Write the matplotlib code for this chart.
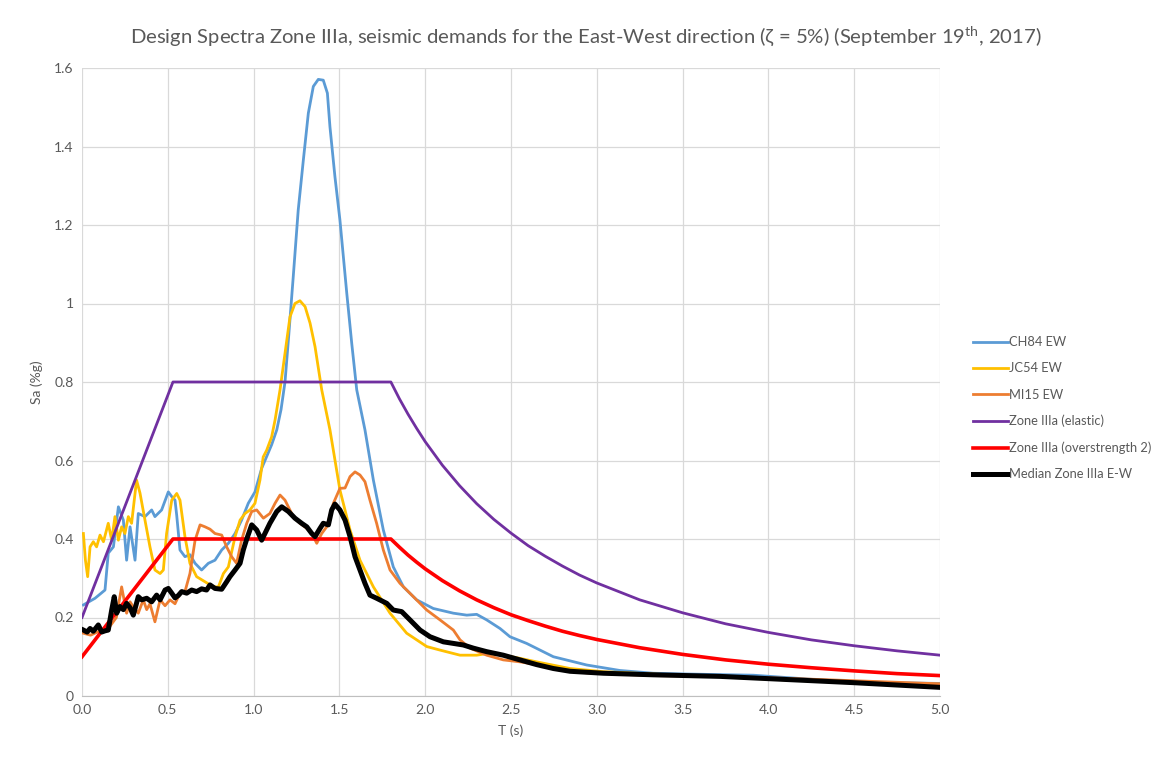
import matplotlib
matplotlib.use("Agg")
import matplotlib.pyplot as plt

# ---- Data ----
T_ch84 = [0.008, 0.076, 0.134, 0.153, 0.183, 0.212, 0.241, 0.26, 0.28, 0.309, 0.328, 0.367, 0.406, 0.425,
          0.464, 0.503, 0.523, 0.542, 0.552, 0.571, 0.6, 0.629, 0.659, 0.697, 0.736, 0.775, 0.814, 0.853,
          0.892, 0.93, 0.969, 1.008, 1.047, 1.076, 1.105, 1.135, 1.16, 1.183, 1.205, 1.231, 1.26, 1.29,
          1.319, 1.348, 1.377, 1.406, 1.43, 1.445, 1.474, 1.503, 1.543, 1.572, 1.601, 1.649, 1.698, 1.756,
          1.814, 1.873, 1.95, 2.047, 2.164, 2.242, 2.3, 2.358, 2.436, 2.494, 2.591, 2.747, 2.941, 3.135,
          3.329, 3.524, 3.912, 4.3, 4.689, 5.0]
Sa_ch84 = [0.232, 0.249, 0.27, 0.364, 0.38, 0.482, 0.448, 0.346, 0.431, 0.346, 0.465, 0.457, 0.474, 0.457,
           0.474, 0.52, 0.508, 0.499, 0.46, 0.372, 0.355, 0.36, 0.338, 0.321, 0.338, 0.346, 0.372, 0.389,
           0.414, 0.448, 0.491, 0.52, 0.58, 0.61, 0.64, 0.678, 0.73, 0.8, 0.92, 1.068, 1.238, 1.366,
           1.485, 1.553, 1.571, 1.569, 1.536, 1.45, 1.323, 1.213, 1.026, 0.898, 0.78, 0.678, 0.55, 0.423,
           0.329, 0.278, 0.245, 0.223, 0.211, 0.206, 0.208, 0.194, 0.172, 0.151, 0.134, 0.1, 0.079, 0.065,
           0.058, 0.056, 0.053, 0.041, 0.034, 0.032]

T_jc54 = [0.008, 0.02, 0.033, 0.047, 0.066, 0.085, 0.105, 0.125, 0.153, 0.173, 0.192, 0.212, 0.231, 0.25,
          0.27, 0.289, 0.318, 0.338, 0.367, 0.396, 0.425, 0.455, 0.474, 0.493, 0.523, 0.552, 0.571, 0.6,
          0.629, 0.668, 0.717, 0.765, 0.795, 0.824, 0.853, 0.892, 0.921, 0.95, 0.979, 1.008, 1.037, 1.056,
          1.076, 1.105, 1.125, 1.154, 1.183, 1.212, 1.241, 1.27, 1.3, 1.329, 1.358, 1.397, 1.445, 1.503,
          1.562, 1.62, 1.698, 1.795, 1.892, 2.009, 2.086, 2.203, 2.3, 2.358, 2.455, 2.552, 2.649, 2.844,
          3.038, 3.329, 3.718, 4.106, 4.495, 5.0]
Sa_jc54 = [0.414, 0.346, 0.304, 0.38, 0.393, 0.38, 0.41, 0.393, 0.44, 0.397, 0.457, 0.397, 0.431, 0.414,
           0.457, 0.44, 0.55, 0.517, 0.448, 0.38, 0.321, 0.312, 0.321, 0.414, 0.499, 0.516, 0.499, 0.406,
           0.338, 0.304, 0.291, 0.278, 0.278, 0.312, 0.329, 0.406, 0.448, 0.465, 0.474, 0.491, 0.55, 0.609,
           0.626, 0.66, 0.703, 0.78, 0.873, 0.966, 1.0, 1.007, 0.992, 0.95, 0.89, 0.78, 0.678, 0.525,
           0.423, 0.346, 0.278, 0.211, 0.16, 0.126, 0.117, 0.104, 0.104, 0.108, 0.104, 0.096, 0.087, 0.07,
           0.062, 0.056, 0.049, 0.041, 0.034, 0.03]

T_mi15 = [0.008, 0.05, 0.1, 0.15, 0.2, 0.231, 0.26, 0.28, 0.299, 0.328, 0.357, 0.377, 0.396, 0.425, 0.455,
          0.484, 0.513, 0.542, 0.571, 0.6, 0.629, 0.659, 0.688, 0.717, 0.746, 0.775, 0.814, 0.843, 0.872,
          0.901, 0.93, 0.96, 0.989, 1.018, 1.057, 1.095, 1.125, 1.154, 1.183, 1.231, 1.27, 1.31, 1.339,
          1.368, 1.397, 1.426, 1.465, 1.503, 1.533, 1.562, 1.591, 1.62, 1.649, 1.678, 1.717, 1.756, 1.795,
          1.853, 1.931, 2.009, 2.086, 2.164, 2.203, 2.261, 2.358, 2.455, 2.552, 2.649, 2.785, 2.941, 3.329,
          3.718, 4.106, 4.495, 5.0]
Sa_mi15 = [0.16, 0.155, 0.165, 0.17, 0.2, 0.278, 0.211, 0.24, 0.227, 0.211, 0.245, 0.22, 0.235, 0.189, 0.245,
           0.23, 0.245, 0.235, 0.262, 0.266, 0.312, 0.397, 0.436, 0.431, 0.425, 0.414, 0.41, 0.38, 0.355,
           0.338, 0.397, 0.44, 0.47, 0.474, 0.453, 0.465, 0.491, 0.512, 0.499, 0.457, 0.44, 0.427, 0.414,
           0.389, 0.414, 0.431, 0.491, 0.529, 0.53, 0.559, 0.571, 0.563, 0.546, 0.499, 0.44, 0.372, 0.321,
           0.287, 0.253, 0.219, 0.194, 0.168, 0.143, 0.122, 0.104, 0.092, 0.087, 0.08, 0.066, 0.059, 0.052,
           0.05, 0.045, 0.039, 0.031]

T_med = [0.008, 0.03, 0.047, 0.066, 0.095, 0.115, 0.134, 0.153, 0.173, 0.188, 0.202, 0.221, 0.241, 0.26,
         0.28, 0.299, 0.328, 0.348, 0.377, 0.406, 0.435, 0.455, 0.484, 0.503, 0.523, 0.542, 0.561, 0.581,
         0.61, 0.639, 0.668, 0.697, 0.726, 0.746, 0.775, 0.814, 0.843, 0.862, 0.892, 0.921, 0.94, 0.96,
         0.989, 1.018, 1.047, 1.095, 1.135, 1.164, 1.203, 1.241, 1.28, 1.31, 1.339, 1.358, 1.387, 1.406,
         1.436, 1.455, 1.474, 1.503, 1.533, 1.562, 1.591, 1.62, 1.649, 1.678, 1.717, 1.776, 1.814, 1.863,
         1.911, 1.97, 2.028, 2.106, 2.222, 2.28, 2.358, 2.455, 2.552, 2.649, 2.747, 2.844, 3.038, 3.329,
         3.718, 4.106, 4.495, 5.0]
Sa_med = [0.168, 0.163, 0.172, 0.165, 0.181, 0.163, 0.166, 0.168, 0.219, 0.253, 0.211, 0.228, 0.22, 0.236,
          0.225, 0.206, 0.253, 0.245, 0.249, 0.24, 0.257, 0.245, 0.27, 0.274, 0.262, 0.25, 0.256, 0.266,
          0.262, 0.27, 0.266, 0.273, 0.27, 0.283, 0.274, 0.272, 0.291, 0.304, 0.321, 0.338, 0.372, 0.4,
          0.436, 0.423, 0.397, 0.44, 0.47, 0.482, 0.47, 0.453, 0.44, 0.431, 0.414, 0.406, 0.427, 0.44,
          0.436, 0.474, 0.489, 0.474, 0.448, 0.406, 0.355, 0.321, 0.287, 0.257, 0.249, 0.236, 0.219, 0.215,
          0.194, 0.168, 0.151, 0.138, 0.13, 0.122, 0.113, 0.104, 0.092, 0.08, 0.07, 0.063, 0.058, 0.054,
          0.05, 0.042, 0.034, 0.022]

T_design = [0.0, 0.53, 1.8, 1.85, 1.9, 1.95, 2.0, 2.1, 2.2, 2.3, 2.4, 2.5, 2.6, 2.7, 2.8, 2.9, 3.0, 3.25,
            3.5, 3.75, 4.0, 4.25, 4.5, 4.75, 5.0]
Sa_elastic = [0.2, 0.8, 0.8, 0.757, 0.718, 0.682, 0.648, 0.588, 0.536, 0.49, 0.45, 0.415, 0.383, 0.356,
              0.331, 0.308, 0.288, 0.245, 0.212, 0.184, 0.162, 0.143, 0.128, 0.115, 0.104]
Sa_over2 = [0.1, 0.4, 0.4, 0.379, 0.359, 0.341, 0.324, 0.294, 0.268, 0.245, 0.225, 0.207, 0.192, 0.178,
            0.165, 0.154, 0.144, 0.123, 0.106, 0.092, 0.081, 0.072, 0.064, 0.057, 0.052]

x_ticks = [0.0, 0.5, 1.0, 1.5, 2.0, 2.5, 3.0, 3.5, 4.0, 4.5, 5.0]
y_ticks = [0, 0.2, 0.4, 0.6, 0.8, 1.0, 1.2, 1.4, 1.6]
y_ticklabels = ["0", "0.2", "0.4", "0.6", "0.8", "1", "1.2", "1.4", "1.6"]

# ---- Plot ----
plt.rcParams['font.family'] = ['Lato', 'DejaVu Sans']
fig = plt.figure(figsize=(11.64, 7.62), dpi=100)
ax = fig.add_axes([82/1164, 1-696/762, (940-82)/1164, (696-68)/762])

ax.plot(T_ch84, Sa_ch84, color='#5B9BD5', lw=2.0, label='CH84 EW', zorder=3)
ax.plot(T_jc54, Sa_jc54, color='#FFC000', lw=2.0, label='JC54 EW', zorder=3)
ax.plot(T_mi15, Sa_mi15, color='#ED7D31', lw=2.0, label='MI15 EW', zorder=3)
ax.plot(T_design, Sa_elastic, color='#7030A0', lw=2.0, label='Zone IIIa (elastic)', zorder=3)
ax.plot(T_design, Sa_over2, color='#FF0000', lw=2.6, label='Zone IIIa (overstrength 2)', zorder=3)
ax.plot(T_med, Sa_med, color='#000000', lw=3.6, label='Median Zone IIIa E-W', zorder=4)

ax.set_xlim(0, 5.0)
ax.set_ylim(0, 1.6)
ax.set_xticks(x_ticks)
ax.set_xticklabels([f"{v:.1f}" for v in x_ticks])
ax.set_yticks(y_ticks)
ax.set_yticklabels(y_ticklabels)
ax.grid(True, color='#D9D9D9', lw=0.9)
ax.set_axisbelow(True)
for s in ['top', 'right', 'left']:
    ax.spines[s].set_visible(False)
ax.spines['bottom'].set_color('#BFBFBF')
ax.tick_params(length=0, colors='#595959', labelsize=10, pad=6)
ax.set_xlabel('T (s)', color='#595959', fontsize=10, labelpad=6)
ax.set_ylabel('Sa (%g)', color='#595959', fontsize=10, labelpad=8)

fig.text(0.503, 1-37/762, 'Design Spectra Zone IIIa, seismic demands for the East-West direction (ζ = 5%) (September 19$^{\\mathregular{th}}$, 2017)',
         ha='center', va='center', fontsize=14.6, color='#595959')

leg = ax.legend(loc='upper left', bbox_to_anchor=(968/1164, 1-331/762), bbox_transform=fig.transFigure,
                frameon=False, fontsize=9.3, labelcolor='#595959', handlelength=2.7, handletextpad=0.1,
                labelspacing=1.1, borderaxespad=0)

fig.savefig('out.png', dpi=100)
